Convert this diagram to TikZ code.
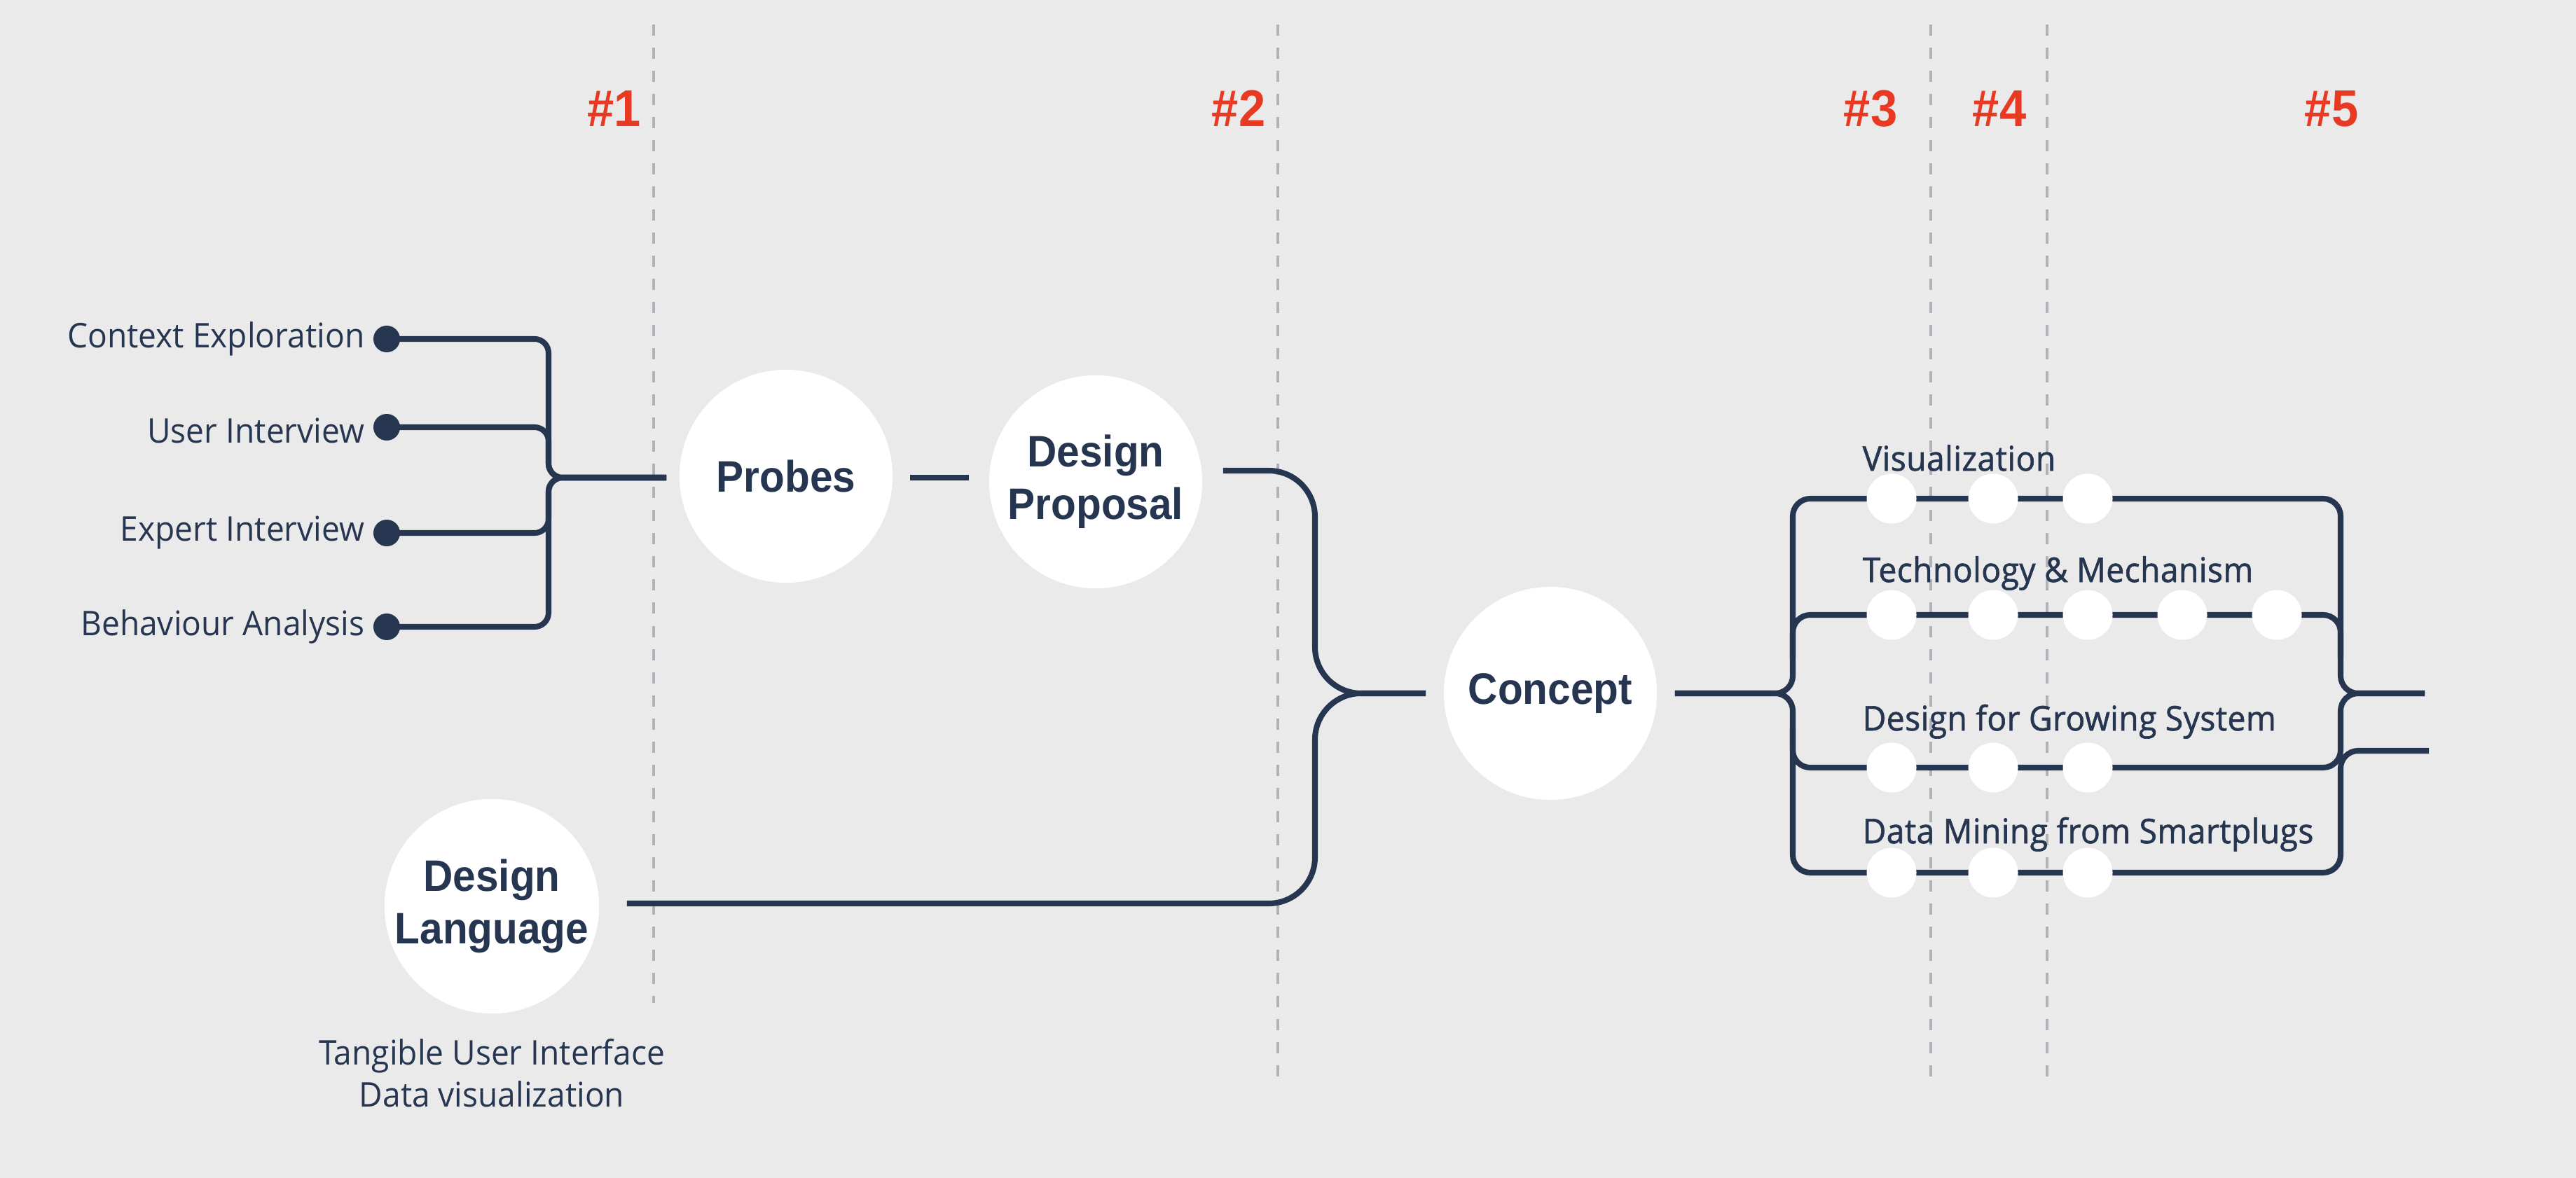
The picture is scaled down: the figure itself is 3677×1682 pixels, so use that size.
\documentclass[tikz,border=0pt]{standalone}
\usepackage{fontspec}
\setmainfont[FakeStretch=0.95]{Open Sans}
\newfontfamily\lblfont[FakeBold=1.3,FakeStretch=0.95,LetterSpace=1.0]{Open Sans}
\newfontfamily\nodefont[FakeStretch=0.93]{Liberation Sans}
\usetikzlibrary{calc}
\definecolor{navy}{RGB}{38,53,80}
\definecolor{hred}{RGB}{232,58,35}
\definecolor{bgc}{RGB}{234,234,234}
\definecolor{dgray}{RGB}{175,179,185}
\begin{document}
\begin{tikzpicture}[x=0.01cm,y=-0.01cm,
  conn/.style={draw=navy,line width=2.3pt},
  bigc/.style={circle,fill=white,minimum size=3.04cm,inner sep=0pt,align=center,text=navy,font=\nodefont\bfseries\fontsize{17.9}{21.3}\selectfont},
  wdot/.style={circle,fill=white,minimum size=0.71cm,inner sep=0pt},
  ndot/.style={circle,fill=navy,minimum size=0.38cm,inner sep=0pt},
  sepline/.style={draw=dgray,line width=1.1pt,dash pattern=on 0.16cm off 0.17cm},
  head/.style={text=hred,font=\nodefont\bfseries\fontsize{21}{25}\selectfont,anchor=base,inner sep=0pt},
  ltxt/.style={text=navy,font=\fontsize{13.8}{16}\selectfont,inner sep=0pt},
  rtxt/.style={text=navy,font=\lblfont\fontsize{13.8}{16}\selectfont,inner sep=0pt,anchor=base west},
]
\fill[bgc] (0,0) rectangle (3677,1682);
\useasboundingbox (0,0) rectangle (3677,1682);

% phase separators
\draw[sepline] (933,35) -- (933,1432);
\draw[sepline] (1824,35) -- (1824,1541);
\draw[sepline] (2756,35) -- (2756,1541);
\draw[sepline] (2922,35) -- (2922,1541);

% headers
\node[head] (h1) at (877,181) {\#1};
\node[head] (h2) at (1768,181) {\#2};
\node[head] (h3) at (2670,181) {\#3};
\node[head] (h4) at (2854,181) {\#4};
\node[head] (h5) at (3328,181) {\#5};

% main circles
\node[bigc] (probes) at (1122,680) {Probes};
\node[bigc] (dp) at (1564,688) {Design\\Proposal};
\node[bigc] (concept) at (2213,990) {Concept};
\node[bigc] (dl) at (702,1294) {Design\\Language};

% left inputs
\node[ndot] (ce) at (552,484) {};
\node[ndot] (ui) at (552,610) {};
\node[ndot] (ei) at (552,761) {};
\node[ndot] (ba) at (552,895) {};
\node[ltxt,anchor=base east] (tce) at (521,496) {Context Exploration};
\node[ltxt,anchor=base east] (tui) at (521,632) {User Interview};
\node[ltxt,anchor=base east] (tei) at (521,772) {Expert Interview};
\node[ltxt,anchor=base east] (tba) at (521,907) {Behaviour Analysis};

\coordinate (j1) at (783,682);
\foreach \s in {ce,ui,ei,ba}{
  \draw[conn,rounded corners=0.2cm,shorten >=0.18cm] (\s.center) -- (\s.center -| j1) -- (j1) -- (probes.west |- j1);
}

% probes -> design proposal
\draw[conn,shorten <=0.24cm,shorten >=0.28cm] (probes.east |- j1) -- (dp.west |- j1);

% to concept
\coordinate (jc) at (1877,990);
\draw[conn,rounded corners=0.66cm,shorten >=0.25cm] ($(dp.east)+(29,-16)$) -| (jc) -- (concept.west);
\draw[conn,rounded corners=0.66cm,shorten >=0.25cm] ($(dl.east)+(39,-4)$) -| (jc) -- (concept.west);

% right bracket
\coordinate (jr) at (2559,990);
\coordinate (tl) at (2559,712);
\coordinate (tr) at (3341,712);
\coordinate (bl) at (2559,1246);
\coordinate (br) at (3341,1246);
\coordinate (jo) at (3341,990);
\coordinate (jo2) at (3341,1072);
\coordinate (o1) at (3461,990);
\coordinate (o2) at (3467,1072);
\coordinate (tml) at (2559,878);
\coordinate (tmr) at (3341,878);
\coordinate (gml) at (2559,1096);
\coordinate (gmr) at (3341,1096);

\draw[conn,rounded corners=0.25cm,shorten <=0.25cm] (concept.east) -- (jr) -- (tl) -- (tr) -- (jo) -- (o1);
\draw[conn,rounded corners=0.25cm,shorten <=0.25cm] (concept.east) -- (jr) -- (bl) -- (br) -- (jo2) -- (o2);
\draw[conn,rounded corners=0.25cm] ($(tml)+(0,62)$) -- (tml) -- (tmr) -- ($(tmr)+(0,62)$);
\draw[conn,rounded corners=0.25cm] ($(gml)+(0,-56)$) -- (gml) -- (gmr) -- (jo) -- (o1);

% white dots
\foreach \x [count=\i] in {2700,2845,2980}{
  \node[wdot] (v\i) at (\x,712) {};
  \node[wdot] (g\i) at (\x,1096) {};
  \node[wdot] (d\i) at (\x,1246) {};
}
\foreach \x [count=\i] in {2700,2845,2980,3115,3250}{
  \node[wdot] (t\i) at (\x,878) {};
}

% right labels
\node[rtxt] (lv) at (2658,672) {Visualization};
\node[rtxt] (lt) at (2658,831) {Technology \& Mechanism};
\node[rtxt] (lg) at (2658,1043) {Design for Growing System};
\node[rtxt] (ld) at (2658,1204) {Data Mining from Smartplugs};

% design language subtext
\node[ltxt,anchor=base] (s1) at (702,1520) {Tangible User Interface};
\node[ltxt,anchor=base] (s2) at (702,1580) {Data visualization};
\end{tikzpicture}
\end{document}
